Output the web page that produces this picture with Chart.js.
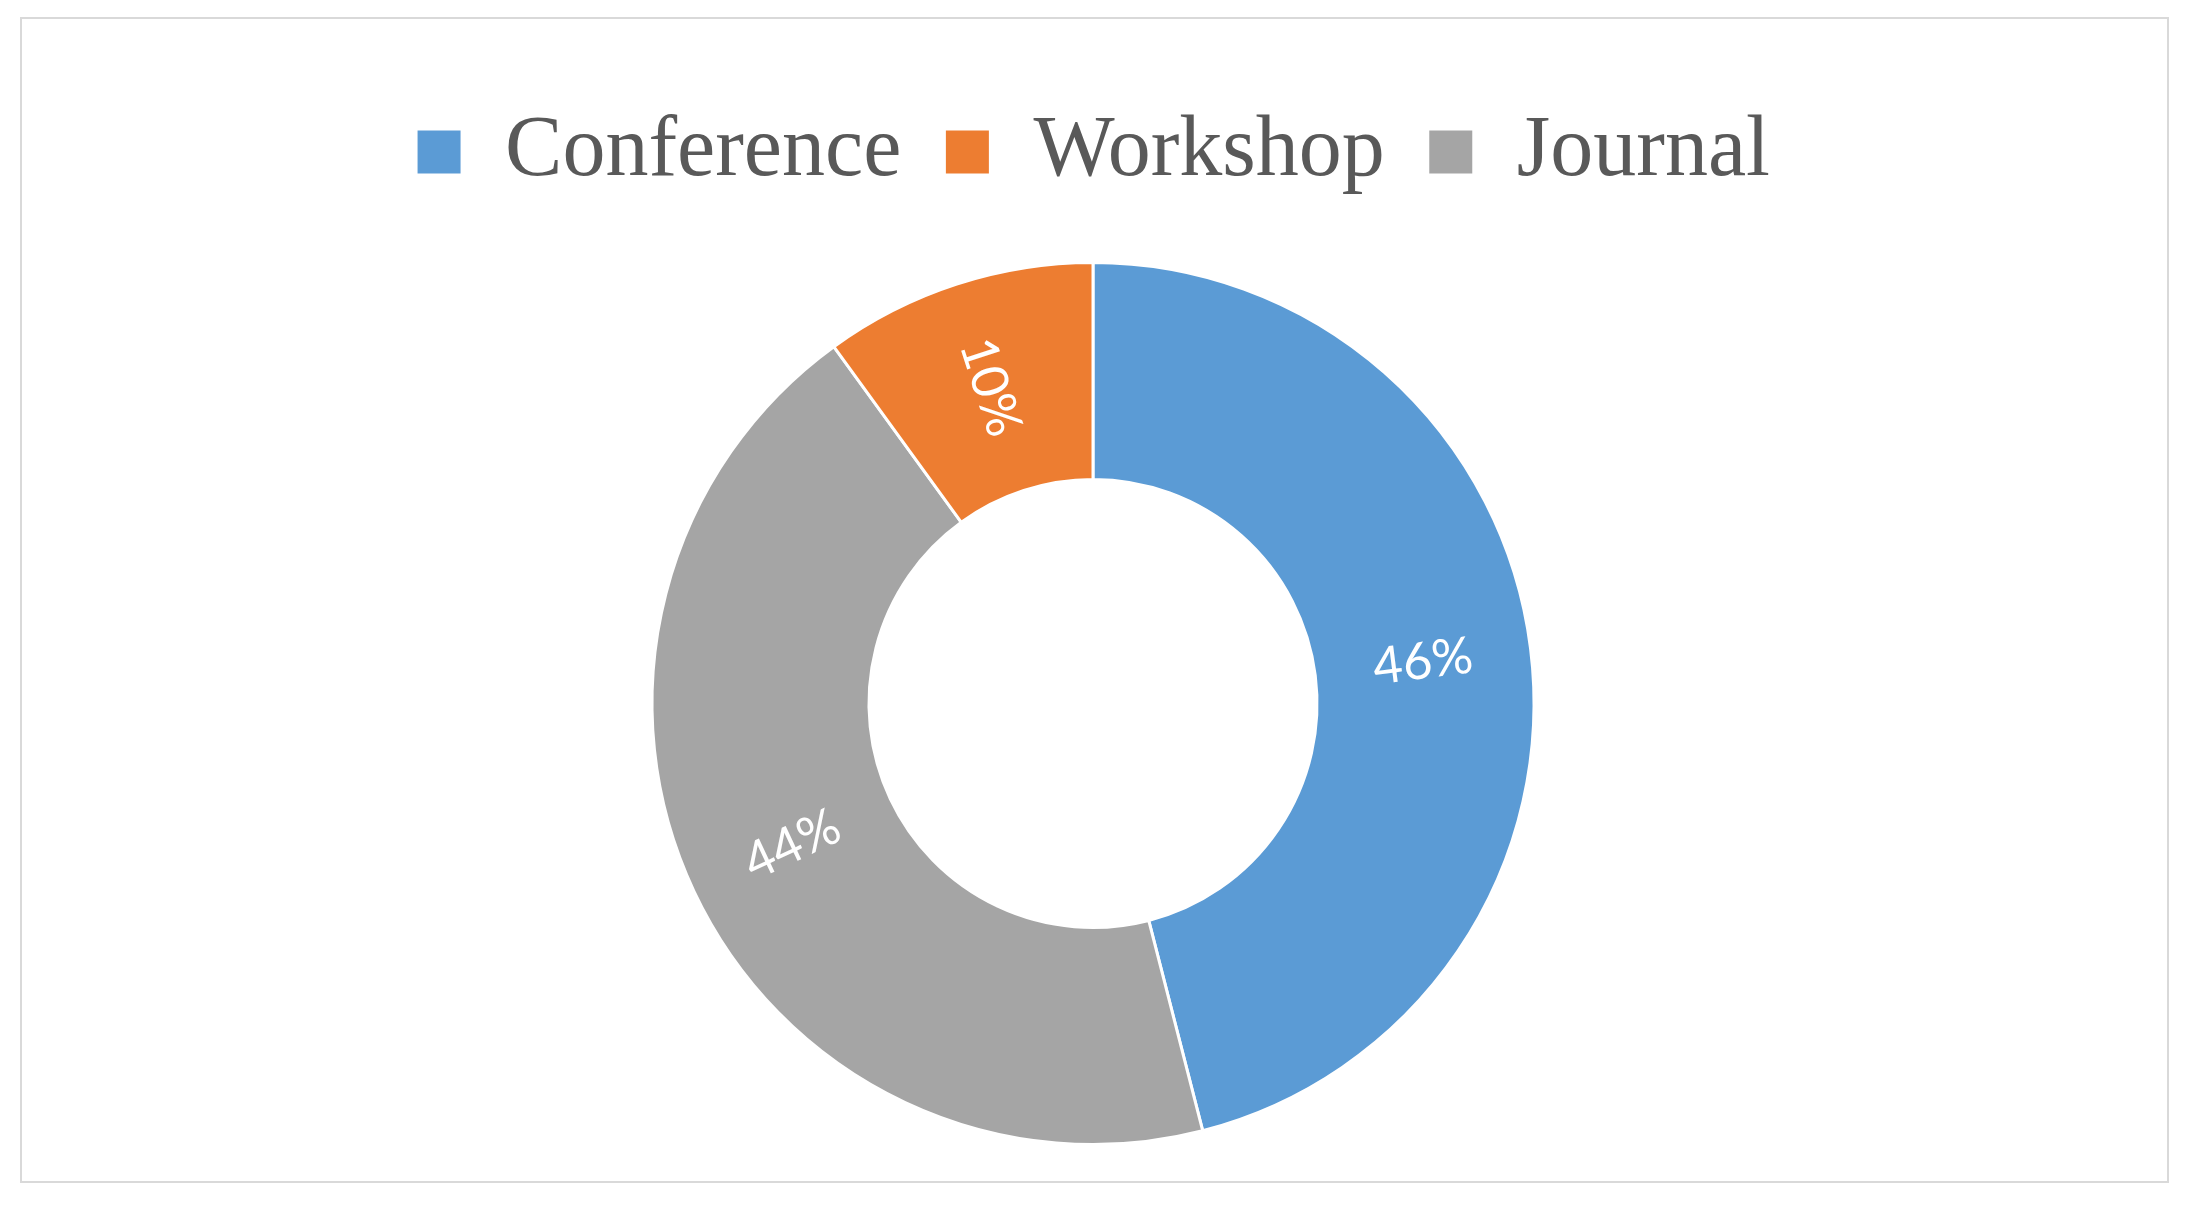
<!DOCTYPE html>
<html>
<head>
<meta charset="utf-8">
<script src="https://cdn.jsdelivr.net/npm/chart.js@4"></script>
<style>
  html, body { margin: 0; padding: 0; background: #ffffff; }
  #frame {
    position: absolute; left: 20px; top: 17px;
    width: 2149px; height: 1166px;
    box-sizing: border-box; border: 2px solid #d9d9d9;
  }
  #wrap { position: absolute; left: 0; top: 0; width: 2186px; height: 1206px; }
</style>
</head>
<body>
<div id="frame"></div>
<div id="wrap"><canvas id="pubChart"></canvas></div>
<script>
// slices in clockwise order starting at 12 o'clock
const categories = ['Conference', 'Journal', 'Workshop'];
const shares = [46, 44, 10];
const sliceColors = ['#5b9bd5', '#a5a5a5', '#ed7d31'];
// legend reads in this order
const legendOrder = ['Conference', 'Workshop', 'Journal'];

// percent labels drawn along the radius, like the original
const sliceLabels = {
    id: 'sliceLabels',
    afterDatasetsDraw(chart) {
        const ctx = chart.ctx;
        const meta = chart.getDatasetMeta(0);
        const data = chart.data.datasets[0].data;
        const total = data.reduce((a, b) => a + b, 0);
        ctx.save();
        ctx.fillStyle = '#ffffff';
        ctx.font = '51px Lato';
        ctx.textAlign = 'center';
        ctx.textBaseline = 'middle';
        meta.data.forEach((arc, i) => {
            const p = arc.getProps(['x', 'y', 'startAngle', 'endAngle', 'innerRadius', 'outerRadius'], true);
            const mid = (p.startAngle + p.endAngle) / 2;
            const r = (p.innerRadius + p.outerRadius) / 2;
            let rot = mid;
            while (rot > Math.PI / 2) rot -= Math.PI;
            while (rot < -Math.PI / 2) rot += Math.PI;
            ctx.save();
            ctx.translate(p.x + Math.cos(mid) * r, p.y + Math.sin(mid) * r);
            ctx.rotate(rot);
            ctx.fillText(Math.round(data[i] / total * 100) + '%', 0, 0);
            ctx.restore();
        });
        ctx.restore();
    }
};

new Chart(document.getElementById('pubChart'), {
    type: 'doughnut',
    data: {
        labels: categories,
        datasets: [{
            data: shares,
            backgroundColor: sliceColors,
            borderColor: '#ffffff',
            borderWidth: 3
        }]
    },
    options: {
        responsive: true,
        maintainAspectRatio: false,
        animation: false,
        cutout: '50.8%',
        radius: 441,
        layout: { padding: { top: 66, bottom: 4, left: 0, right: 0 } },
        plugins: {
            tooltip: { enabled: false },
            legend: {
                display: true,
                position: 'top',
                labels: {
                    color: '#595959',
                    font: { family: '"Liberation Serif", "Times New Roman", serif', size: 86 },
                    boxWidth: 46,
                    boxHeight: 46,
                    padding: 43,
                    sort: (a, b) => legendOrder.indexOf(a.text) - legendOrder.indexOf(b.text)
                }
            }
        }
    },
    plugins: [sliceLabels]
});
</script>
</body>
</html>
